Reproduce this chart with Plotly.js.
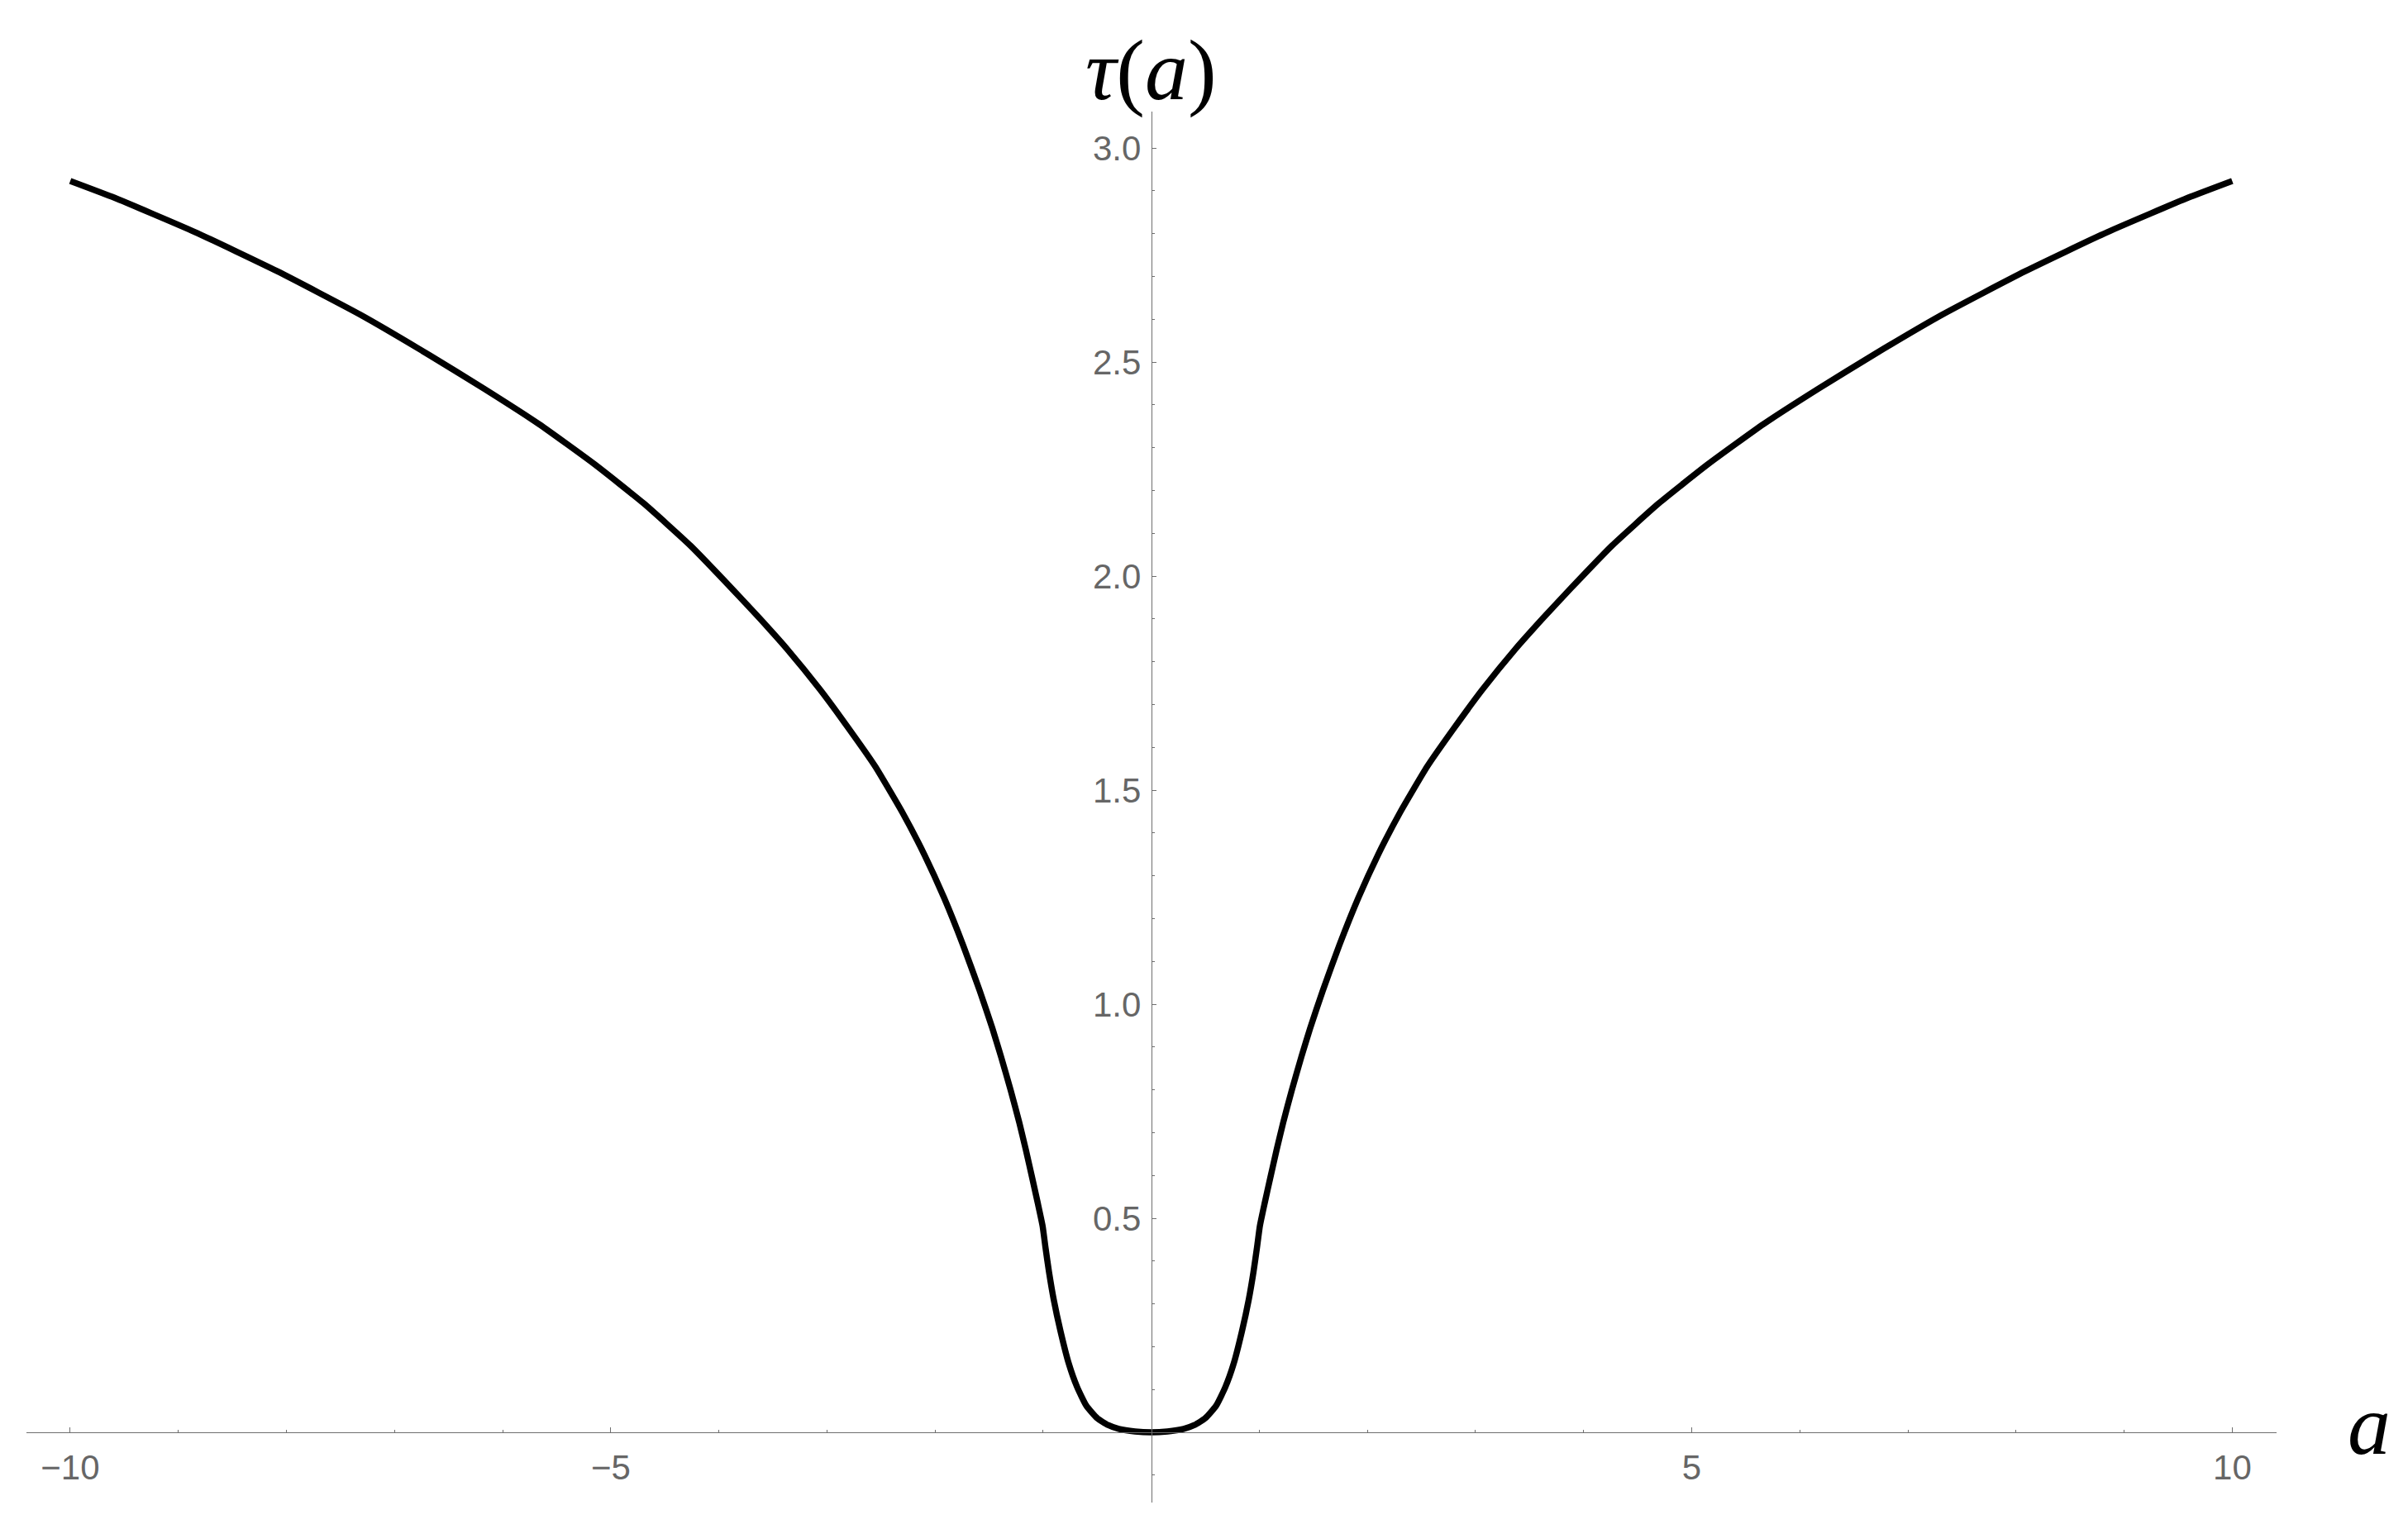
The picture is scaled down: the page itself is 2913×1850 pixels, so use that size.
<!DOCTYPE html>
<html lang="en">
<head>
    <meta charset="UTF-8">
    <title>tau(a)</title>
    <script src="https://cdn.plot.ly/plotly-3.0.1.min.js"></script>
    <style>
        body, html {
            margin: 0;
            padding: 0;
            background: white;
        }
        #chart {
            width: 2913px;
            height: 1850px;
        }
    </style>
</head>
<body>
    <div id="chart"></div>
    <script>
        // values (kink near |a| = 1)
        const aValues = [
            -10, -9.614, -8.85, -8.085, -7.32, -6.683, -6.174, -5.664, -5.154, -4.696,
            -4.262, -3.88, -3.625, -3.37, -3.064, -2.81, -2.555, -2.30, -2.096, -1.917,
            -1.739, -1.586, -1.47, -1.39, -1.30, -1.22, -1.16, -1.10, -1.05, -1.005,
            -0.979, -0.946, -0.902, -0.839, -0.762, -0.686, -0.60, -0.50, -0.40, -0.30,
            -0.15, 0,
            0.15, 0.30, 0.40, 0.50, 0.60, 0.686, 0.762, 0.839, 0.902, 0.946, 0.979,
            1.005, 1.05, 1.10, 1.16, 1.22, 1.30, 1.39, 1.47, 1.586, 1.739,
            1.917, 2.096, 2.30, 2.555, 2.81, 3.064, 3.37, 3.625, 3.88, 4.262,
            4.696, 5.154, 5.664, 6.174, 6.683, 7.32, 8.085, 8.85, 9.614, 10
        ];
        const tauValues = [
            2.923, 2.886, 2.804, 2.712, 2.611, 2.517, 2.438, 2.355, 2.262, 2.170,
            2.071, 1.971, 1.902, 1.830, 1.735, 1.648, 1.556, 1.447, 1.348, 1.249,
            1.137, 1.031, 0.944, 0.878, 0.799, 0.723, 0.660, 0.593, 0.536, 0.482,
            0.433, 0.375, 0.310, 0.236, 0.160, 0.106, 0.062, 0.033, 0.017, 0.008,
            0.002, 0,
            0.002, 0.008, 0.017, 0.033, 0.062, 0.106, 0.160, 0.236, 0.310, 0.375, 0.433,
            0.482, 0.536, 0.593, 0.660, 0.723, 0.799, 0.878, 0.944, 1.031, 1.137,
            1.249, 1.348, 1.447, 1.556, 1.648, 1.735, 1.830, 1.902, 1.971, 2.071,
            2.170, 2.262, 2.355, 2.438, 2.517, 2.611, 2.712, 2.804, 2.886, 2.923
        ];

        const xTickVals = [-10, -5, 5, 10];
        const xMinorVals = [-9, -8, -7, -6, -4, -3, -2, -1, 1, 2, 3, 4, 6, 7, 8, 9];
        const yTickVals = [0.5, 1.0, 1.5, 2.0, 2.5, 3.0];
        const yTickText = ['0.5', '1.0', '1.5', '2.0', '2.5', '3.0'];
        const yMinorVals = [-0.1, 0.1, 0.2, 0.3, 0.4, 0.6, 0.7, 0.8, 0.9, 1.1, 1.2, 1.3, 1.4,
            1.6, 1.7, 1.8, 1.9, 2.1, 2.2, 2.3, 2.4, 2.6, 2.7, 2.8, 2.9];

        const xRange = [-10.405, 10.41];
        const yRange = [-0.164, 3.085];

        const axisGray = '#6e6e6e';
        const tickFont = {family: 'Liberation Sans, Arial, sans-serif', size: 42, color: '#666666'};
        const mathFont = {family: 'Liberation Serif, Times New Roman, serif', size: 104, color: 'black'};

        // axes cross at the origin, like the original
        const xPos = (0 - yRange[0]) / (yRange[1] - yRange[0]);
        const yPos = (0 - xRange[0]) / (xRange[1] - xRange[0]);

        const data = [{
            x: aValues,
            y: tauValues,
            type: 'scatter',
            mode: 'lines',
            line: {color: 'black', width: 7.5, shape: 'spline', smoothing: 0.5},
            hoverinfo: 'skip'
        }];

        const layout = {
            width: 2913,
            height: 1850,
            margin: {l: 32, r: 159, t: 135, b: 32},
            paper_bgcolor: 'white',
            plot_bgcolor: 'white',
            showlegend: false,
            xaxis: {
                range: xRange,
                anchor: 'free',
                position: xPos,
                showgrid: false,
                zeroline: false,
                showline: true,
                linecolor: axisGray,
                linewidth: 1.2,
                ticks: 'inside',
                ticklen: 6.5,
                tickwidth: 1,
                tickcolor: axisGray,
                tickmode: 'array',
                tickvals: xTickVals,
                ticktext: xTickVals.map(v => v < 0 ? '\u2212' + Math.abs(v) : String(v)),
                tickfont: tickFont,
                ticklabelstandoff: 5,
                minor: {
                    tickmode: 'array',
                    tickvals: xMinorVals,
                    ticks: 'inside',
                    ticklen: 3.5,
                    tickwidth: 1,
                    tickcolor: axisGray
                }
            },
            yaxis: {
                range: yRange,
                anchor: 'free',
                position: yPos,
                showgrid: false,
                zeroline: false,
                showline: true,
                linecolor: axisGray,
                linewidth: 1.2,
                ticks: 'inside',
                ticklen: 5.5,
                tickwidth: 1,
                tickcolor: axisGray,
                tickmode: 'array',
                tickvals: yTickVals,
                ticktext: yTickText,
                tickfont: tickFont,
                ticklabelstandoff: 4,
                minor: {
                    tickmode: 'array',
                    tickvals: yMinorVals,
                    ticks: 'inside',
                    ticklen: 3.5,
                    tickwidth: 1,
                    tickcolor: axisGray
                }
            },
            annotations: [
                {
                    text: '<i>τ</i>(<i>a</i>)',
                    xref: 'x', yref: 'paper',
                    x: 0, y: 1,
                    xanchor: 'center', yanchor: 'bottom',
                    yshift: -10,
                    showarrow: false,
                    font: mathFont
                },
                {
                    text: '<i>a</i>',
                    xref: 'paper', yref: 'y',
                    x: 1.0412, y: 0,
                    xanchor: 'center', yanchor: 'middle',
                    yshift: 10,
                    showarrow: false,
                    font: mathFont
                }
            ]
        };

        Plotly.newPlot('chart', data, layout, {displayModeBar: false, staticPlot: true});
    </script>
</body>
</html>
